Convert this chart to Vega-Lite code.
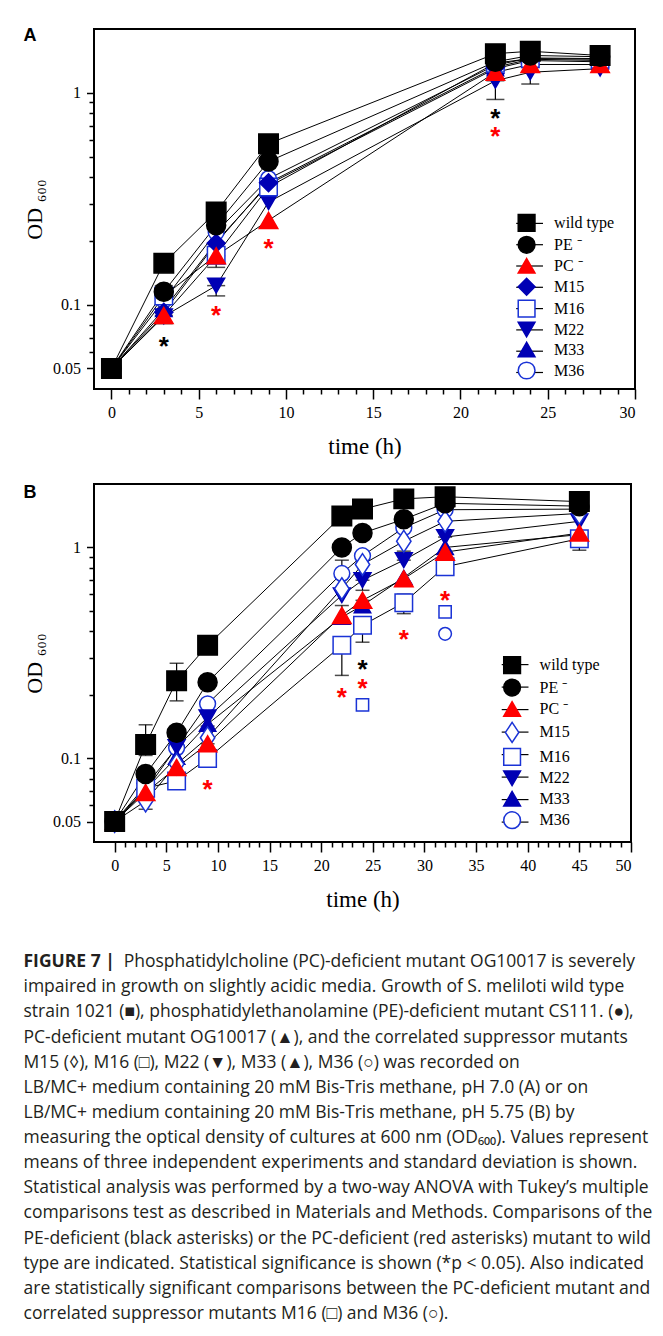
{
  "$schema": "https://vega.github.io/schema/vega-lite/v6.json",
  "background": "white",
  "padding": {"left": 22, "top": 26, "right": 5, "bottom": 10},
  "bounds": "flush",
  "spacing": 95,
  "resolve": {
    "scale": {"shape": "independent", "fill": "independent", "stroke": "independent", "size": "independent", "opacity": "independent"},
    "legend": {"shape": "independent", "fill": "independent", "stroke": "independent", "size": "independent", "opacity": "independent"}
  },
  "config": {
    "view": {"stroke": "black", "strokeWidth": 2},
    "axis": {"domain": false, "grid": false, "labelFont": "Liberation Serif", "labelFontSize": 16, "labelColor": "black", "tickColor": "black", "tickWidth": 1.5, "titleFont": "Liberation Serif", "titleFontWeight": "normal", "titleColor": "black", "labelOverlap": false, "labelBound": false},
    "legend": {"labelFont": "Liberation Serif", "labelFontSize": 16, "labelColor": "black", "padding": 0}
  },
  "datasets": {
    "A": [
      {"s": "M36", "t": 0, "v": 0.05}, {"s": "M36", "t": 3, "v": 0.105}, {"s": "M36", "t": 6, "v": 0.22}, {"s": "M36", "t": 9, "v": 0.393}, {"s": "M36", "t": 22, "v": 1.35}, {"s": "M36", "t": 24, "v": 1.46}, {"s": "M36", "t": 28, "v": 1.45},
      {"s": "M33", "t": 0, "v": 0.05}, {"s": "M33", "t": 3, "v": 0.095}, {"s": "M33", "t": 6, "v": 0.198}, {"s": "M33", "t": 9, "v": 0.37}, {"s": "M33", "t": 22, "v": 1.3}, {"s": "M33", "t": 24, "v": 1.42}, {"s": "M33", "t": 28, "v": 1.4},
      {"s": "M22", "t": 0, "v": 0.05}, {"s": "M22", "t": 3, "v": 0.088}, {"s": "M22", "t": 6, "v": 0.123}, {"s": "M22", "t": 9, "v": 0.305}, {"s": "M22", "t": 22, "v": 1.14}, {"s": "M22", "t": 24, "v": 1.25}, {"s": "M22", "t": 28, "v": 1.3},
      {"s": "M16", "t": 0, "v": 0.05}, {"s": "M16", "t": 3, "v": 0.11}, {"s": "M16", "t": 6, "v": 0.171}, {"s": "M16", "t": 9, "v": 0.359}, {"s": "M16", "t": 22, "v": 1.38}, {"s": "M16", "t": 24, "v": 1.45}, {"s": "M16", "t": 28, "v": 1.44},
      {"s": "M15", "t": 0, "v": 0.05}, {"s": "M15", "t": 3, "v": 0.092}, {"s": "M15", "t": 6, "v": 0.195}, {"s": "M15", "t": 9, "v": 0.376}, {"s": "M15", "t": 22, "v": 1.32}, {"s": "M15", "t": 24, "v": 1.44}, {"s": "M15", "t": 28, "v": 1.42},
      {"s": "PC ⁻", "t": 0, "v": 0.05}, {"s": "PC ⁻", "t": 3, "v": 0.089}, {"s": "PC ⁻", "t": 6, "v": 0.17}, {"s": "PC ⁻", "t": 9, "v": 0.25}, {"s": "PC ⁻", "t": 22, "v": 1.25}, {"s": "PC ⁻", "t": 24, "v": 1.36}, {"s": "PC ⁻", "t": 28, "v": 1.36},
      {"s": "PE ⁻", "t": 0, "v": 0.05}, {"s": "PE ⁻", "t": 3, "v": 0.115}, {"s": "PE ⁻", "t": 6, "v": 0.237}, {"s": "PE ⁻", "t": 9, "v": 0.474}, {"s": "PE ⁻", "t": 22, "v": 1.4}, {"s": "PE ⁻", "t": 24, "v": 1.5}, {"s": "PE ⁻", "t": 28, "v": 1.48},
      {"s": "wild type", "t": 0, "v": 0.05}, {"s": "wild type", "t": 3, "v": 0.157}, {"s": "wild type", "t": 6, "v": 0.274}, {"s": "wild type", "t": 9, "v": 0.575}, {"s": "wild type", "t": 22, "v": 1.53}, {"s": "wild type", "t": 24, "v": 1.57}, {"s": "wild type", "t": 28, "v": 1.5}
    ],
    "Aerr": [
      {"t": 3, "lo": 0.108, "hi": 0.123}, {"t": 3, "lo": 0.0814, "hi": 0.089},
      {"t": 6, "lo": 0.15, "hi": 0.17}, {"t": 6, "lo": 0.11, "hi": 0.123},
      {"t": 9, "lo": 0.331, "hi": 0.36},
      {"t": 22, "lo": 0.93, "hi": 1.14}, {"t": 24, "lo": 1.1, "hi": 1.25}
    ],
    "Astar": [
      {"k": "PE", "t": 3, "v": 0.0679}, {"k": "PC", "t": 6, "v": 0.0958}, {"k": "PC", "t": 9, "v": 0.198},
      {"k": "PE", "t": 22, "v": 0.811}, {"k": "PC", "t": 22, "v": 0.664}
    ],
    "B": [
      {"s": "M36", "t": 0, "v": 0.05}, {"s": "M36", "t": 3, "v": 0.074}, {"s": "M36", "t": 6, "v": 0.112}, {"s": "M36", "t": 9, "v": 0.181}, {"s": "M36", "t": 22, "v": 0.752}, {"s": "M36", "t": 24, "v": 0.913}, {"s": "M36", "t": 28, "v": 1.24}, {"s": "M36", "t": 32, "v": 1.51}, {"s": "M36", "t": 45, "v": 1.52},
      {"s": "M33", "t": 0, "v": 0.05}, {"s": "M33", "t": 3, "v": 0.071}, {"s": "M33", "t": 6, "v": 0.101}, {"s": "M33", "t": 9, "v": 0.145}, {"s": "M33", "t": 22, "v": 0.467}, {"s": "M33", "t": 24, "v": 0.53}, {"s": "M33", "t": 28, "v": 0.72}, {"s": "M33", "t": 32, "v": 1.0}, {"s": "M33", "t": 45, "v": 1.15},
      {"s": "M22", "t": 0, "v": 0.05}, {"s": "M22", "t": 3, "v": 0.07}, {"s": "M22", "t": 6, "v": 0.113}, {"s": "M22", "t": 9, "v": 0.156}, {"s": "M22", "t": 22, "v": 0.593}, {"s": "M22", "t": 24, "v": 0.699}, {"s": "M22", "t": 28, "v": 0.87}, {"s": "M22", "t": 32, "v": 1.12}, {"s": "M22", "t": 45, "v": 1.33},
      {"s": "M16", "t": 0, "v": 0.05}, {"s": "M16", "t": 3, "v": 0.072}, {"s": "M16", "t": 6, "v": 0.078}, {"s": "M16", "t": 9, "v": 0.0996}, {"s": "M16", "t": 22, "v": 0.343}, {"s": "M16", "t": 24, "v": 0.427}, {"s": "M16", "t": 28, "v": 0.547}, {"s": "M16", "t": 32, "v": 0.81}, {"s": "M16", "t": 45, "v": 1.1},
      {"s": "M15", "t": 0, "v": 0.05}, {"s": "M15", "t": 3, "v": 0.0626}, {"s": "M15", "t": 6, "v": 0.0936}, {"s": "M15", "t": 9, "v": 0.125}, {"s": "M15", "t": 22, "v": 0.638}, {"s": "M15", "t": 24, "v": 0.83}, {"s": "M15", "t": 28, "v": 1.07}, {"s": "M15", "t": 32, "v": 1.33}, {"s": "M15", "t": 45, "v": 1.45},
      {"s": "PC ⁻", "t": 0, "v": 0.05}, {"s": "PC ⁻", "t": 3, "v": 0.0687}, {"s": "PC ⁻", "t": 6, "v": 0.0903}, {"s": "PC ⁻", "t": 9, "v": 0.117}, {"s": "PC ⁻", "t": 22, "v": 0.476}, {"s": "PC ⁻", "t": 24, "v": 0.561}, {"s": "PC ⁻", "t": 28, "v": 0.711}, {"s": "PC ⁻", "t": 32, "v": 0.95}, {"s": "PC ⁻", "t": 45, "v": 1.17},
      {"s": "PE ⁻", "t": 0, "v": 0.05}, {"s": "PE ⁻", "t": 3, "v": 0.084}, {"s": "PE ⁻", "t": 6, "v": 0.132}, {"s": "PE ⁻", "t": 9, "v": 0.229}, {"s": "PE ⁻", "t": 22, "v": 1.0}, {"s": "PE ⁻", "t": 24, "v": 1.17}, {"s": "PE ⁻", "t": 28, "v": 1.36}, {"s": "PE ⁻", "t": 32, "v": 1.62}, {"s": "PE ⁻", "t": 45, "v": 1.57},
      {"s": "wild type", "t": 0, "v": 0.05}, {"s": "wild type", "t": 3, "v": 0.116}, {"s": "wild type", "t": 6, "v": 0.233}, {"s": "wild type", "t": 9, "v": 0.343}, {"s": "wild type", "t": 22, "v": 1.41}, {"s": "wild type", "t": 24, "v": 1.52}, {"s": "wild type", "t": 28, "v": 1.7}, {"s": "wild type", "t": 32, "v": 1.74}, {"s": "wild type", "t": 45, "v": 1.65}
    ],
    "Berr": [
      {"t": 3, "lo": 0.103, "hi": 0.144}, {"t": 3, "lo": 0.0572, "hi": 0.0626},
      {"t": 6, "lo": 0.187, "hi": 0.282},
      {"t": 9, "lo": 0.142, "hi": 0.181}, {"t": 9, "lo": 0.104, "hi": 0.117},
      {"t": 22, "lo": 0.752, "hi": 0.87}, {"t": 22, "lo": 0.44, "hi": 0.53}, {"t": 22, "lo": 0.247, "hi": 0.343},
      {"t": 24, "lo": 0.626, "hi": 0.699}, {"t": 24, "lo": 0.496, "hi": 0.561}, {"t": 24, "lo": 0.355, "hi": 0.427},
      {"t": 28, "lo": 0.87, "hi": 0.96}, {"t": 28, "lo": 0.485, "hi": 0.6},
      {"t": 32, "lo": 1.12, "hi": 1.19},
      {"t": 45, "lo": 0.97, "hi": 1.1}
    ],
    "Bstar": [
      {"k": "PC", "t": 9, "v": 0.0766}, {"k": "PC", "t": 22, "v": 0.2075}, {"k": "PE", "t": 24, "v": 0.282}, {"k": "PC", "t": 24, "v": 0.231},
      {"k": "PC", "t": 28, "v": 0.392}, {"k": "PC", "t": 32, "v": 0.604},
      {"k": "M16", "t": 24, "v": 0.179}, {"k": "M16", "t": 32, "v": 0.494}, {"k": "M36", "t": 32, "v": 0.389}
    ],
    "caption": [
      {"line": 1, "part": "head", "text": "FIGURE 7 |"},
      {"line": 1, "part": "first", "text": "Phosphatidylcholine (PC)-deficient mutant OG10017 is severely"},
      {"line": 2, "part": "body", "text": "impaired in growth on slightly acidic media. Growth of S. meliloti wild type"},
      {"line": 3, "part": "body", "text": "strain 1021 (■), phosphatidylethanolamine (PE)-deficient mutant CS111. (●),"},
      {"line": 4, "part": "body", "text": "PC-deficient mutant OG10017 (▲), and the correlated suppressor mutants"},
      {"line": 5, "part": "body", "text": "M15 (◊), M16 (□), M22 (▼), M33 (▲), M36 (○) was recorded on"},
      {"line": 6, "part": "body", "text": "LB/MC+ medium containing 20 mM Bis-Tris methane, pH 7.0 (A) or on"},
      {"line": 7, "part": "body", "text": "LB/MC+ medium containing 20 mM Bis-Tris methane, pH 5.75 (B) by"},
      {"line": 8, "part": "body", "text": "measuring the optical density of cultures at 600 nm (OD₆₀₀). Values represent"},
      {"line": 9, "part": "body", "text": "means of three independent experiments and standard deviation is shown."},
      {"line": 10, "part": "body", "text": "Statistical analysis was performed by a two-way ANOVA with Tukey’s multiple"},
      {"line": 11, "part": "body", "text": "comparisons test as described in Materials and Methods. Comparisons of the"},
      {"line": 12, "part": "body", "text": "PE-deficient (black asterisks) or the PC-deficient (red asterisks) mutant to wild"},
      {"line": 13, "part": "body", "text": "type are indicated. Statistical significance is shown (*p < 0.05). Also indicated"},
      {"line": 14, "part": "body", "text": "are statistically significant comparisons between the PC-deficient mutant and"},
      {"line": 15, "part": "body", "text": "correlated suppressor mutants M16 (□) and M36 (○)."}
    ]
  },
  "vconcat": [
    {
      "width": 541, "height": 360,
      "title": {"text": "A", "anchor": "start", "frame": "bounds", "orient": "top", "dy": 20, "font": "Liberation Sans", "fontSize": 18, "fontWeight": "bold", "color": "black"},
      "encoding": {
        "x": {"field": "t", "type": "quantitative", "title": "time (h)",
          "scale": {"domain": [-1, 30], "nice": false, "zero": false},
          "axis": {"values": [0,1,2,3,4,5,6,7,8,9,10,11,12,13,14,15,16,17,18,19,20,21,22,23,24,25,26,27,28,29,30],
            "labelExpr": "datum.value % 5 === 0 ? datum.label : ''",
            "tickSize": {"condition": {"test": "datum.value % 5 === 0", "value": 10}, "value": 5},
            "labelPadding": 5, "titleFontSize": 23, "titlePadding": 15}},
        "y": {"field": "v", "type": "quantitative", "title": "OD ₆₀₀",
          "scale": {"type": "log", "domain": [0.04, 2], "nice": false},
          "axis": {"values": [0.05,0.06,0.07,0.08,0.09,0.1,0.2,0.3,0.4,0.5,0.6,0.7,0.8,0.9,1],
            "labelExpr": "datum.value == 1 ? '1' : datum.value == 0.1 ? '0.1' : datum.value == 0.05 ? '0.05' : ''",
            "tickSize": {"condition": {"test": "datum.value == 1 || datum.value == 0.1 || datum.value == 0.05", "value": 7.5}, "value": 5},
            "labelPadding": 6, "titleFontSize": 22, "titlePadding": 6}}
      },
      "layer": [
        {"data": {"name": "A"}, "transform": [{"filter": "false"}], "mark": {"type": "line", "color": "black", "strokeWidth": 1},
          "encoding": {"opacity": {"field": "t", "type": "ordinal", "scale": {"domain": [1,2,3,4,5,6,7,8], "range": [1,1,1,1,1,1,1,1]},
            "legend": {"orient": "none", "legendX": 426.6, "legendY": 185.4, "title": null, "labelExpr": "''", "labelOpacity": 0, "symbolSize": 280, "symbolType": "M-1.6,0H1.6", "symbolFillColor": "transparent", "symbolStrokeColor": "black", "symbolStrokeWidth": 1.2, "rowPadding": 4.3, "labelOffset": 18}}}},
        {"data": {"name": "A"}, "mark": {"type": "line", "color": "black", "strokeWidth": 1},
          "encoding": {"detail": {"field": "s", "type": "nominal"}}},
        {"data": {"name": "Aerr"}, "mark": {"type": "errorbar", "color": "black", "ticks": {"size": 18, "thickness": 1.5}, "rule": {"strokeWidth": 1.2}},
          "encoding": {"y": {"field": "lo", "type": "quantitative"}, "y2": {"field": "hi"}}},
        {"data": {"name": "A"}, "mark": {"type": "point", "filled": true, "strokeWidth": 1.5, "opacity": 1},
          "encoding": {
            "shape": {"field": "s", "type": "nominal", "scale": {"domain": ["wild type", "PE ⁻", "PC ⁻", "M15", "M16", "M22", "M33", "M36"], "range": ["square", "circle", "triangle-up", "diamond", "square", "triangle-down", "triangle-up", "circle"]},
              "legend": {"orient": "none", "legendX": 423.1, "legendY": 184.4, "title": null, "symbolSize": 280, "symbolStrokeWidth": 1.5, "rowPadding": -1.1, "labelOffset": 18}},
            "stroke": {"field": "s", "type": "nominal", "scale": {"domain": ["wild type", "PE ⁻", "PC ⁻", "M15", "M16", "M22", "M33", "M36"], "range": ["black", "black", "#ff0000", "#0000b4", "#1a33d6", "#0000b4", "#0000b4", "#1a33d6"]},
              "legend": {"orient": "none", "legendX": 423.1, "legendY": 184.4, "title": null, "symbolSize": 280, "symbolStrokeWidth": 1.5, "rowPadding": -1.1, "labelOffset": 18}},
            "fill": {"field": "s", "type": "nominal", "scale": {"domain": ["wild type", "PE ⁻", "PC ⁻", "M15", "M16", "M22", "M33", "M36"], "range": ["black", "black", "#ff0000", "#0000b4", "white", "#0000b4", "#0000b4", "white"]},
              "legend": {"orient": "none", "legendX": 423.1, "legendY": 184.4, "title": null, "symbolSize": 280, "symbolStrokeWidth": 1.5, "rowPadding": -1.1, "labelOffset": 18}},
            "size": {"field": "s", "type": "nominal", "scale": {"domain": ["M36", "M33", "M22", "M16", "M15", "PC ⁻", "PE ⁻", "wild type"], "range": [250, 380, 380, 280, 260, 380, 250, 300]}, "legend": null}
          }},
        {"data": {"name": "Astar"}, "transform": [{"filter": "datum.k == 'PE'"}], "mark": {"type": "text", "text": "*", "font": "Liberation Sans", "fontSize": 26, "fontWeight": "bold", "color": "black", "baseline": "alphabetic", "dy": 15}},
        {"data": {"name": "Astar"}, "transform": [{"filter": "datum.k == 'PC'"}], "mark": {"type": "text", "text": "*", "font": "Liberation Sans", "fontSize": 26, "fontWeight": "bold", "color": "#ff0000", "baseline": "alphabetic", "dy": 15}}
      ]
    },
    {
      "width": 537, "height": 358,
      "title": {"text": "B", "anchor": "start", "frame": "bounds", "orient": "top", "dy": 22, "font": "Liberation Sans", "fontSize": 18, "fontWeight": "bold", "color": "black"},
      "encoding": {
        "x": {"field": "t", "type": "quantitative", "title": "time (h)",
          "scale": {"domain": [-2, 50], "nice": false, "zero": false},
          "axis": {"values": [0,1,2,3,4,5,6,7,8,9,10,11,12,13,14,15,16,17,18,19,20,21,22,23,24,25,26,27,28,29,30,31,32,33,34,35,36,37,38,39,40,41,42,43,44,45,46,47,48,49,50],
            "labelExpr": "datum.value % 5 === 0 ? datum.label : ''",
            "tickSize": {"condition": {"test": "datum.value % 5 === 0", "value": 10}, "value": 5},
            "labelPadding": 5, "titleFontSize": 23, "titlePadding": 15}},
        "y": {"field": "v", "type": "quantitative", "title": "OD ₆₀₀",
          "scale": {"type": "log", "domain": [0.04, 2], "nice": false},
          "axis": {"values": [0.05,0.06,0.07,0.08,0.09,0.1,0.2,0.3,0.4,0.5,0.6,0.7,0.8,0.9,1],
            "labelExpr": "datum.value == 1 ? '1' : datum.value == 0.1 ? '0.1' : datum.value == 0.05 ? '0.05' : ''",
            "tickSize": {"condition": {"test": "datum.value == 1 || datum.value == 0.1 || datum.value == 0.05", "value": 7.5}, "value": 5},
            "labelPadding": 6, "titleFontSize": 22, "titlePadding": 6}}
      },
      "layer": [
        {"data": {"name": "B"}, "transform": [{"filter": "false"}], "mark": {"type": "line", "color": "black", "strokeWidth": 1},
          "encoding": {"opacity": {"field": "t", "type": "ordinal", "scale": {"domain": [1,2,3,4,5,6,7,8], "range": [1,1,1,1,1,1,1,1]},
            "legend": {"orient": "none", "legendX": 412.1, "legendY": 171.6, "title": null, "labelExpr": "''", "labelOpacity": 0, "symbolSize": 280, "symbolType": "M-1.6,0H1.6", "symbolFillColor": "transparent", "symbolStrokeColor": "black", "symbolStrokeWidth": 1.2, "rowPadding": 5.5, "labelOffset": 18}}}},
        {"data": {"name": "B"}, "mark": {"type": "line", "color": "black", "strokeWidth": 1},
          "encoding": {"detail": {"field": "s", "type": "nominal"}}},
        {"data": {"name": "Berr"}, "mark": {"type": "errorbar", "color": "black", "ticks": {"size": 14, "thickness": 1.5}, "rule": {"strokeWidth": 1.2}},
          "encoding": {"y": {"field": "lo", "type": "quantitative"}, "y2": {"field": "hi"}}},
        {"data": {"name": "B"}, "mark": {"type": "point", "filled": true, "strokeWidth": 1.5, "opacity": 1},
          "encoding": {
            "shape": {"field": "s", "type": "nominal", "scale": {"domain": ["wild type", "PE ⁻", "PC ⁻", "M15", "M16", "M22", "M33", "M36"], "range": ["square", "circle", "triangle-up", "M0,-1.2L0.8,0L0,1.2L-0.8,0Z", "square", "triangle-down", "triangle-up", "circle"]},
              "legend": {"orient": "none", "legendX": 408.6, "legendY": 171.6, "title": null, "symbolSize": 280, "symbolStrokeWidth": 1.5, "rowPadding": -0.56, "labelOffset": 18}},
            "stroke": {"field": "s", "type": "nominal", "scale": {"domain": ["wild type", "PE ⁻", "PC ⁻", "M15", "M16", "M22", "M33", "M36"], "range": ["black", "black", "#ff0000", "#1a33d6", "#1a33d6", "#0000b4", "#0000b4", "#1a33d6"]},
              "legend": {"orient": "none", "legendX": 408.6, "legendY": 171.6, "title": null, "symbolSize": 280, "symbolStrokeWidth": 1.5, "rowPadding": -0.56, "labelOffset": 18}},
            "fill": {"field": "s", "type": "nominal", "scale": {"domain": ["wild type", "PE ⁻", "PC ⁻", "M15", "M16", "M22", "M33", "M36"], "range": ["black", "black", "#ff0000", "white", "white", "#0000b4", "#0000b4", "white"]},
              "legend": {"orient": "none", "legendX": 408.6, "legendY": 171.6, "title": null, "symbolSize": 280, "symbolStrokeWidth": 1.5, "rowPadding": -0.56, "labelOffset": 18}},
            "size": {"field": "s", "type": "nominal", "scale": {"domain": ["M36", "M33", "M22", "M16", "M15", "PC ⁻", "PE ⁻", "wild type"], "range": [250, 380, 380, 280, 200, 380, 250, 290]}, "legend": null}
          }},
        {"data": {"name": "Bstar"}, "transform": [{"filter": "datum.k == 'PE'"}], "mark": {"type": "text", "text": "*", "font": "Liberation Sans", "fontSize": 26, "fontWeight": "bold", "color": "black", "baseline": "alphabetic", "dy": 15}},
        {"data": {"name": "Bstar"}, "transform": [{"filter": "datum.k == 'PC'"}], "mark": {"type": "text", "text": "*", "font": "Liberation Sans", "fontSize": 26, "fontWeight": "bold", "color": "#ff0000", "baseline": "alphabetic", "dy": 15}},
        {"data": {"name": "Bstar"}, "transform": [{"filter": "datum.k == 'M16'"}], "mark": {"type": "point", "shape": "square", "size": 150, "filled": false, "stroke": "#1a33d6", "strokeWidth": 1.5, "opacity": 1}},
        {"data": {"name": "Bstar"}, "transform": [{"filter": "datum.k == 'M36'"}], "mark": {"type": "point", "shape": "circle", "size": 160, "filled": false, "stroke": "#1a33d6", "strokeWidth": 1.5, "opacity": 1}}
      ]
    },
    {
      "width": 537, "height": 377,
      "view": {"stroke": null},
      "data": {"name": "caption"},
      "encoding": {
        "y": {"field": "line", "type": "quantitative", "scale": {"domain": [0, 15], "reverse": true, "nice": false, "zero": false}, "axis": null},
        "text": {"field": "text", "type": "nominal"}
      },
      "layer": [
        {"transform": [{"filter": "datum.part == 'body'"}], "mark": {"type": "text", "align": "left", "baseline": "middle", "font": "Open Sans", "fontSize": 17.5, "color": "#231f20", "x": 0, "dx": -70.5}},
        {"transform": [{"filter": "datum.part == 'head'"}], "mark": {"type": "text", "align": "left", "baseline": "middle", "font": "Open Sans", "fontSize": 17.5, "fontWeight": "bold", "color": "#231f20", "x": 0, "dx": -70.5}},
        {"transform": [{"filter": "datum.part == 'first'"}], "mark": {"type": "text", "align": "left", "baseline": "middle", "font": "Open Sans", "fontSize": 17.5, "color": "#231f20", "x": 0, "dx": 29.7}}
      ]
    }
  ]
}
